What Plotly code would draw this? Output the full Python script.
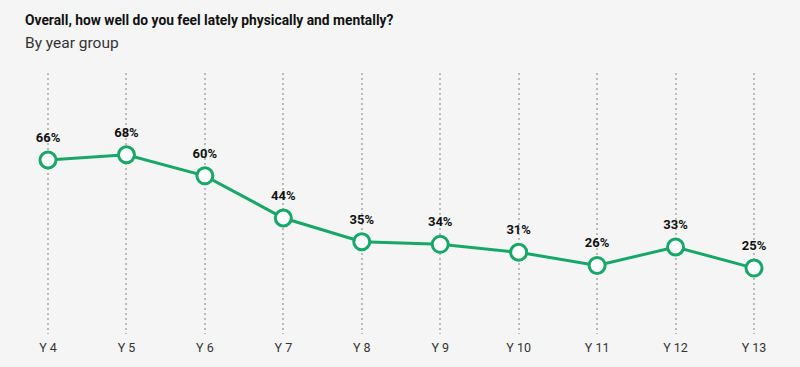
import plotly.graph_objects as go

categories = ["Y 4", "Y 5", "Y 6", "Y 7", "Y 8", "Y 9", "Y 10", "Y 11", "Y 12", "Y 13"]
values = [66, 68, 60, 44, 35, 34, 31, 26, 33, 25]
labels = [f"{v}%" for v in values]

green = "#17a768"
xs = list(range(len(categories)))

fig = go.Figure()
fig.add_trace(go.Scatter(
    x=xs, y=values, mode="lines+markers",
    line=dict(color=green, width=3),
    marker=dict(size=16, color="white", line=dict(color=green, width=3)),
    cliponaxis=False, hoverinfo="skip",
))
fig.add_trace(go.Scatter(
    x=xs, y=values, mode="markers+text",
    marker=dict(size=22, opacity=0),
    text=labels, textposition="top center",
    textfont=dict(family="Roboto", size=13, color="#111111", weight="bold"),
    cliponaxis=False, hoverinfo="skip",
))

W, H = 800, 367
ml, mr, mt, mb = 20, 18, 73, 33
pw, ph = W - ml - mr, H - mt - mb

def px2paper(px, py):
    return (px - ml) / pw, 1 - (py - mt) / ph

tx, ty = px2paper(23, 20)
sx, sy = px2paper(23, 43)

fig.update_layout(
    width=W, height=H,
    paper_bgcolor="#f5f5f5", plot_bgcolor="#f5f5f5",
    margin=dict(l=ml, r=mr, t=mt, b=mb),
    showlegend=False,
    font=dict(family="Roboto", color="#333333"),
    annotations=[
        dict(text="<b>Overall, how well do you feel lately physically and mentally?</b>",
             x=tx, y=ty, xref="paper", yref="paper", showarrow=False,
             xanchor="left", yanchor="middle", font=dict(size=13.8, color="#111111")),
        dict(text="By year group",
             x=sx, y=sy, xref="paper", yref="paper", showarrow=False,
             xanchor="left", yanchor="middle", font=dict(size=15.5, color="#333333")),
    ],
)

fig.update_xaxes(
    tickmode="array", tickvals=xs, ticktext=categories,
    range=[-0.357, 9.357],
    showgrid=True, gridcolor="#bbbbbb", griddash="1.5px,3.5px", gridwidth=1.5,
    zeroline=False, showline=False, ticks="",
    ticklabelstandoff=4,
    tickfont=dict(size=12.5, color="#333333"),
)
fig.update_yaxes(range=[0, 99], visible=False, showgrid=False, zeroline=False)

fig.write_html("out.html", config={"displayModeBar": False},
               post_script="document.body.style.margin='0';")
